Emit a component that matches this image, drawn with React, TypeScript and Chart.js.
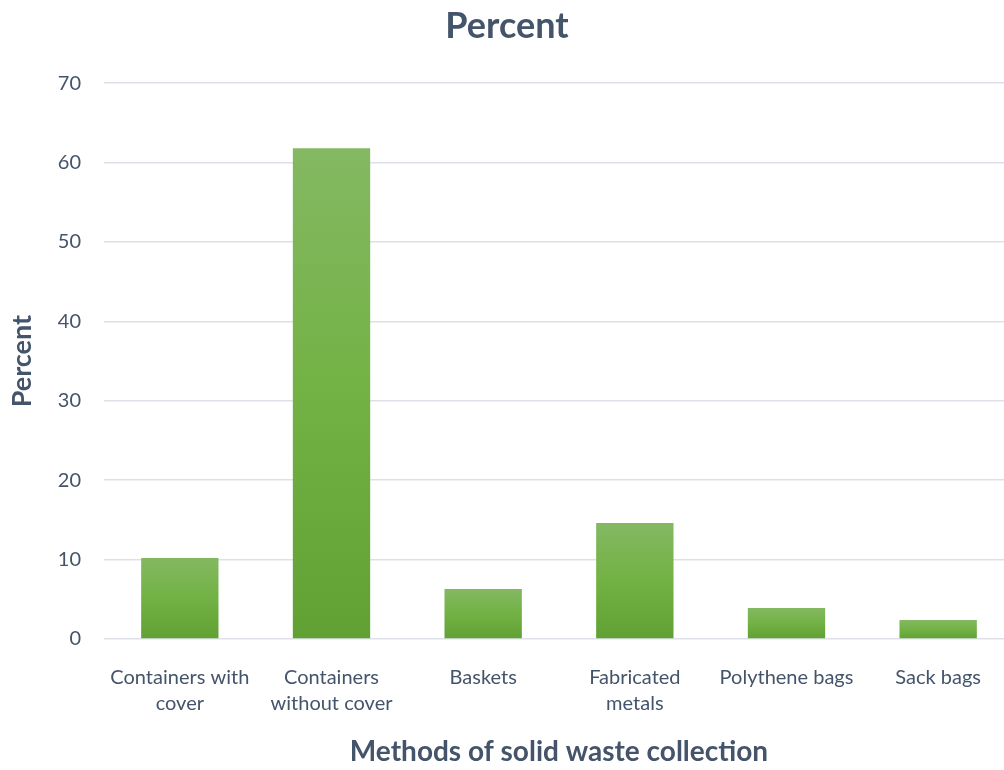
import React, { useEffect, useRef } from "react";
import { Chart, registerables } from "chart.js";

Chart.register(...registerables);

const categories: (string | string[])[] = [
  ["Containers with", "cover"],
  ["Containers", "without cover"],
  "Baskets",
  ["Fabricated", "metals"],
  "Polythene bags",
  "Sack bags",
];
const percentValues: number[] = [10.2, 61.8, 6.3, 14.6, 3.9, 2.4];
const yTicks: number[] = [0, 10, 20, 30, 40, 50, 60, 70];

const chartTitle = "Percent";
const yAxisTitle = "Percent";
const xAxisTitle = "Methods of solid waste collection";

const TEXT = "#44546a";
const GRID = "#dde1e7";
const FONT = "Lato, 'Open Sans', sans-serif";

export default function App() {
  const ref = useRef<HTMLCanvasElement | null>(null);

  useEffect(() => {
    document.body.style.margin = "0";
    document.body.style.overflow = "hidden";
    const canvas = ref.current!;
    const chart = new Chart(canvas, {
      type: "bar",
      data: {
        labels: categories,
        datasets: [
          {
            label: "Percent",
            data: percentValues,
            barPercentage: 0.51,
            categoryPercentage: 1,
            backgroundColor: (ctx: any) => {
              const c = ctx.chart;
              const ys = c.scales?.y;
              if (!ys || ctx.parsed == null) return "#72b043";
              const top = ys.getPixelForValue(ctx.parsed.y);
              const base = ys.getPixelForValue(0);
              if (!isFinite(top) || !isFinite(base) || base - top < 1) return "#72b043";
              const g = c.ctx.createLinearGradient(0, top, 0, base);
              g.addColorStop(0, "#84b862");
              g.addColorStop(0.5, "#72b244");
              g.addColorStop(1, "#61a134");
              return g;
            },
          },
        ],
      },
      options: {
        responsive: false,
        animation: false,
        layout: { padding: { left: 0, right: 6, top: 0, bottom: 0 } },
        plugins: {
          legend: { display: false },
          tooltip: { enabled: false },
          title: {
            display: true,
            text: chartTitle,
            color: TEXT,
            font: { family: FONT, size: 36, weight: "bold", lineHeight: 1.2 },
            padding: { top: 5, bottom: 35 },
          },
        },
        scales: {
          x: {
            grid: { display: false },
            border: { display: false },
            ticks: {
              color: TEXT,
              font: { family: FONT, size: 20, lineHeight: 1.3 },
              padding: 18,
              maxRotation: 0,
              autoSkip: false,
            },
            title: {
              display: true,
              text: xAxisTitle,
              color: TEXT,
              font: { family: FONT, size: 28, weight: "bold", lineHeight: 1.2 },
              padding: { top: 0, bottom: 1 },
            },
            afterFit: (s: any) => {
              s.height = 131;
            },
          },
          y: {
            min: 0,
            max: 70,
            afterBuildTicks: (s: any) => {
              s.ticks = yTicks.map((v) => ({ value: v }));
            },
            grid: { color: GRID, lineWidth: 1.5, drawTicks: false },
            border: { display: false },
            ticks: {
              color: TEXT,
              font: { family: FONT, size: 20 },
              padding: 23,
            },
            title: {
              display: true,
              text: yAxisTitle,
              color: TEXT,
              font: { family: FONT, size: 27, weight: "bold", lineHeight: 1.2 },
              padding: { top: 6, bottom: 0 },
            },
            afterFit: (s: any) => {
              s.width = 104;
            },
          },
        },
      },
    } as any);
    return () => chart.destroy();
  }, []);

  return (
    <div style={{ position: "fixed", left: 0, top: 0, width: 1004, height: 770, overflow: "hidden", background: "#fff" }}>
      <canvas ref={ref} width={1020} height={770} style={{ display: "block" }} />
    </div>
  );
}
